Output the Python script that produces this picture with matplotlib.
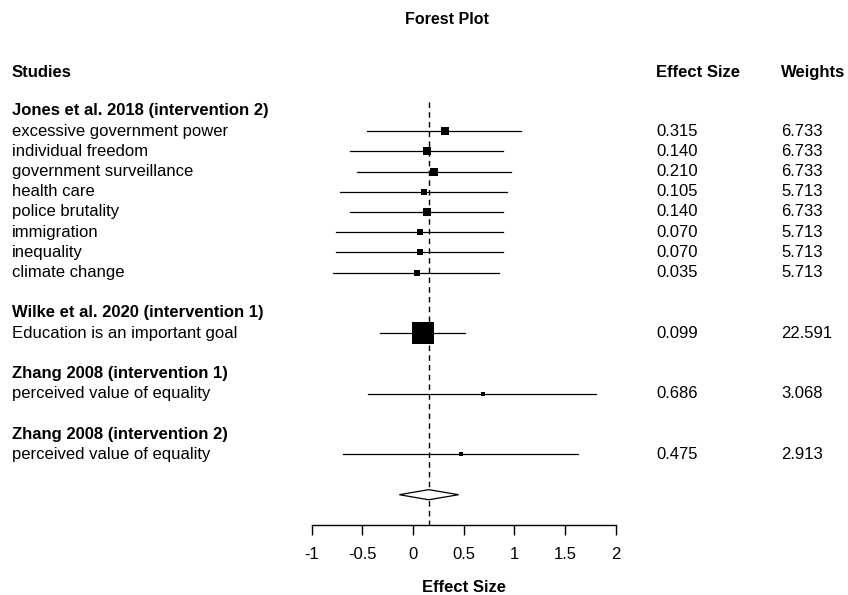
import matplotlib.pyplot as plt
from matplotlib.transforms import blended_transform_factory

plt.rcParams['font.family'] = ['Liberation Sans', 'DejaVu Sans']

# studies and outcomes
groups = ["Jones et al. 2018 (intervention 2)", "Wilke et al. 2020 (intervention 1)",
          "Zhang 2008 (intervention 1)", "Zhang 2008 (intervention 2)"]
group_sizes = [8, 1, 1, 1]
outcomes = ["excessive government power", "individual freedom", "government surveillance",
            "health care", "police brutality", "immigration", "inequality", "climate change",
            "Education is an important goal", "perceived value of equality",
            "perceived value of equality"]
effects = [0.315, 0.140, 0.210, 0.105, 0.140, 0.070, 0.070, 0.035, 0.099, 0.686, 0.475]
ci_low = [-0.45, -0.62, -0.557, -0.725, -0.625, -0.76, -0.76, -0.794, -0.323, -0.44, -0.688]
ci_high = [1.07, 0.89, 0.963, 0.924, 0.89, 0.885, 0.885, 0.852, 0.512, 1.806, 1.625]
weights = [6.733, 6.733, 6.733, 5.713, 6.733, 5.713, 5.713, 5.713, 22.591, 3.068, 2.913]

# pooled estimate
pooled = 0.154
pooled_low = -0.135
pooled_high = 0.45

W, H = 848, 595
fig = plt.figure(figsize=(W / 100, H / 100), dpi=100)

# axes spans exactly the -1..2 axis line
x0, x1 = 311.7, 615.7
y_top, y_bot = 80.7, 525
ax = fig.add_axes([x0 / W, (H - y_bot) / H, (x1 - x0) / W, (y_bot - y_top) / H])
ax.set_xlim(-1, 2)
ax.set_ylim(20.5, -1.5)
for s in ['top', 'right', 'left']:
    ax.spines[s].set_visible(False)
ax.spines['bottom'].set_linewidth(1)
ax.set_yticks([])
ax.set_xticks([-1, -0.5, 0, 0.5, 1, 1.5, 2])
ax.set_xticklabels(['-1', '-0.5', '0', '0.5', '1', '1.5', '2'])
ax.tick_params(axis='x', direction='out', length=7.5, width=1, pad=8, labelsize=12)

tr = blended_transform_factory(fig.transFigure, ax.transData)
col_study = 12 / W
col_eff = 656 / W
col_w = 781 / W

# headers
fig.text(405 / W, (H - 20) / H, "Forest Plot", ha='left', va='center', fontsize=11.5, fontweight='bold')
ax.text(col_study, -1.93, "Studies", transform=tr, ha='left', va='center', fontsize=12, fontweight='bold')
ax.text(col_eff, -1.93, "Effect Size", transform=tr, ha='left', va='center', fontsize=12, fontweight='bold')
ax.text(col_w, -1.93, "Weights", transform=tr, ha='left', va='center', fontsize=12, fontweight='bold')

row = 0
k = 0
for g, n in zip(groups, group_sizes):
    ax.text(col_study, row, g, transform=tr, ha='left', va='center', fontsize=12, fontweight='bold')
    row += 1
    for _ in range(n):
        ax.plot([ci_low[k], ci_high[k]], [row, row], color='black', lw=0.9, clip_on=False)
        size = (0.9 * weights[k] + 1.2) * 0.72
        ax.plot(effects[k], row, marker='s', color='black', markersize=size, mew=0, clip_on=False)
        ax.text(col_study, row, outcomes[k], transform=tr, ha='left', va='center', fontsize=12)
        ax.text(col_eff, row, f"{effects[k]:.3f}", transform=tr, ha='left', va='center', fontsize=12)
        ax.text(col_w, row, f"{weights[k]:.3f}", transform=tr, ha='left', va='center', fontsize=12)
        row += 1
        k += 1
    row += 1

# summary diamond
dy = 0.25
ax.fill([pooled_low, pooled, pooled_high, pooled], [row, row - dy, row, row + dy],
        facecolor='white', edgecolor='black', lw=0.9, zorder=3)

# reference line at pooled estimate
ax.vlines(pooled, -0.45, 20.5, colors='black', linestyles=(0, (4, 3)), lw=1, zorder=1)

fig.text((x0 + x1) / 2 / W, (H - 588) / H, "Effect Size", ha='center', va='center',
         fontsize=12, fontweight='bold')

fig.savefig('out.png', dpi=100)
